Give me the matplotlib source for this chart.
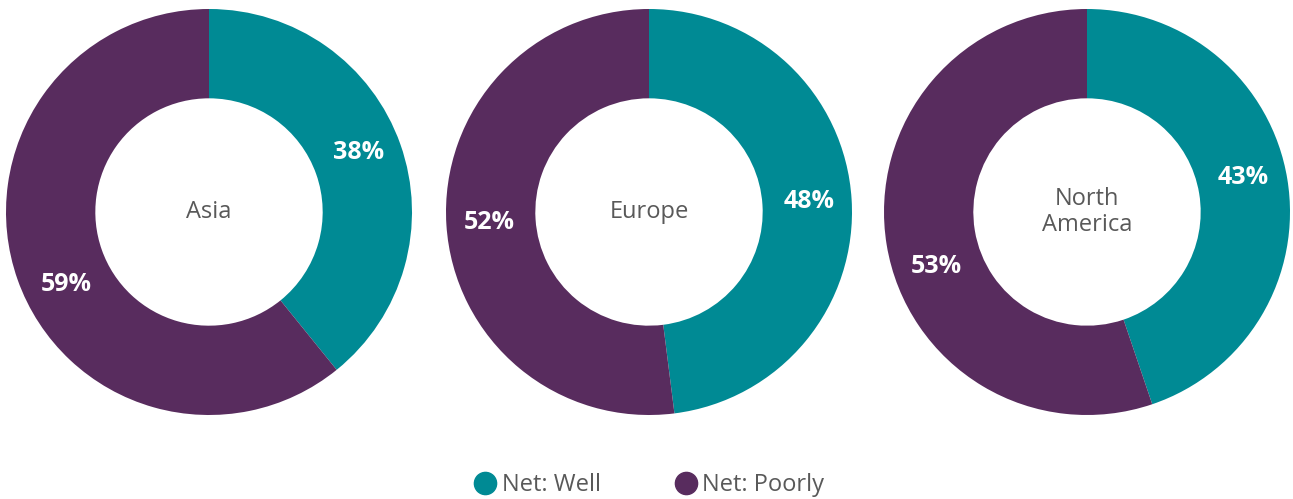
import matplotlib.pyplot as plt
import numpy as np
from matplotlib.lines import Line2D

plt.rcParams['font.family'] = ['Open Sans', 'DejaVu Sans']

regions = ['Asia', 'Europe', 'North\nAmerica']
well = [38, 48, 43]
poorly = [59, 52, 53]
series_names = ['Net: Well', 'Net: Poorly']
colors = ['#008A94', '#582C5E']
text_gray = '#595959'


def draw_donut(ax, name, values):
    ax.pie(values, colors=colors, startangle=90, counterclock=False,
           radius=1.0, wedgeprops=dict(width=0.44, edgecolor='none'))
    # labels sit at the middle of each share on a 100% scale
    start = 0
    for v in values:
        mid = start + v / 2
        start += v
        ang = np.deg2rad(90 - mid / 100 * 360)
        r = 0.79
        ax.text(r * np.cos(ang), r * np.sin(ang), '%d%%' % v, ha='center', va='center',
                color='white', fontsize=18, fontweight='bold')
    ax.text(0, 0, name, ha='center', va='center', color=text_gray, fontsize=17,
            linespacing=1.15)
    ax.set_xlim(-1, 1)
    ax.set_ylim(-1, 1)
    ax.set_aspect('equal')
    ax.axis('off')


def main():
    W, H = 1293, 499
    fig = plt.figure(figsize=(W / 100, H / 100), dpi=100)

    centers = [209, 649, 1087]
    cy = 212
    R = 203
    for cx, name, w, p in zip(centers, regions, well, poorly):
        ax = fig.add_axes([(cx - R) / W, (H - cy - R) / H, 2 * R / W, 2 * R / H])
        draw_donut(ax, name, [w, p])

    handles = [Line2D([], [], marker='o', linestyle='none', markersize=16,
                      markerfacecolor=c, markeredgecolor=c) for c in colors]
    fig.legend(handles, series_names, loc='center', bbox_to_anchor=(0.501, (H - 485) / H),
               ncol=2, frameon=False, fontsize=17, labelcolor=text_gray,
               handletextpad=0.1, columnspacing=3.0, handlelength=1.2)

    fig.savefig('out.png', dpi=100)


if __name__ == '__main__':
    main()
